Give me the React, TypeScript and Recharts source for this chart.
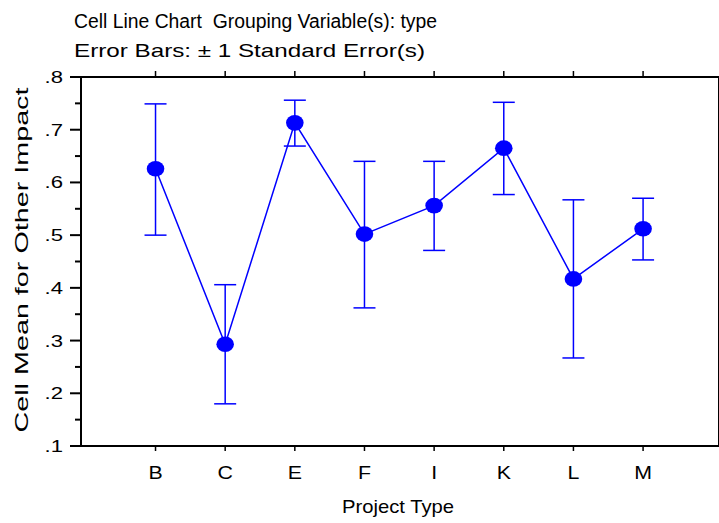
import React from "react";
import { LineChart, Line, XAxis, YAxis, ErrorBar } from "recharts";

const categories = ["B", "C", "E", "F", "I", "K", "L", "M"];
const means = [0.626, 0.293, 0.713, 0.502, 0.556, 0.665, 0.417, 0.512];
const lower = [0.5, 0.18, 0.669, 0.362, 0.471, 0.577, 0.267, 0.453];
const upper = [0.749, 0.406, 0.756, 0.64, 0.64, 0.752, 0.567, 0.57];
const yTicks = [0.1, 0.15, 0.2, 0.25, 0.3, 0.35, 0.4, 0.45, 0.5, 0.55, 0.6, 0.65, 0.7, 0.75, 0.8];
const xTicks = categories.map((_, i) => i);

const data = categories.map((cat, i) => ({
  pos: i,
  cat,
  mean: means[i],
  err: [means[i] - lower[i], upper[i] - means[i]],
}));

const FONT = "'Liberation Sans', Arial, sans-serif";
const BLUE = "#0000ff";
const X_DOMAIN = [-1.07, 8.09];

const isMajor = (v: number) => Math.abs(v * 10 - Math.round(v * 10)) < 1e-6;

const LeftTick = (props: any) => {
  const { x, y, payload } = props;
  const major = isMajor(payload.value);
  return (
    <g>
      <line x1={x - (major ? 11 : 6)} x2={x} y1={y} y2={y} stroke="#000" strokeWidth={2} />
      {major && (
        <text
          transform={`translate(${x - 18},${y + 6}) scale(1.3,1)`}
          textAnchor="end"
          fontSize={17}
          fontFamily={FONT}
          fill="#000"
        >
          {payload.value.toFixed(1).replace(/^0/, "")}
        </text>
      )}
    </g>
  );
};

const BottomTick = (props: any) => {
  const { x, y, payload } = props;
  return (
    <g>
      <line x1={x} x2={x} y1={y} y2={y + 5} stroke="#000" strokeWidth={1.5} />
      <text
        transform={`translate(${x},${y + 32.5}) scale(1.22,1)`}
        textAnchor="middle"
        fontSize={17.5}
        fontFamily={FONT}
        fill="#000"
      >
        {categories[payload.value]}
      </text>
    </g>
  );
};

const Dot = (props: any) => {
  const { cx, cy } = props;
  if (cx == null || cy == null) return null;
  return <ellipse cx={cx} cy={cy} rx={8.8} ry={7.8} fill={BLUE} />;
};

export default function App() {
  return (
    <div style={{ position: "absolute", left: 0, top: 0, width: 719, height: 523, background: "#fff" }}>
      <LineChart width={719} height={523} data={data} margin={{ top: 70, right: 0, bottom: 0, left: 0 }}>
        <XAxis
          xAxisId="bottom"
          dataKey="pos"
          type="number"
          domain={X_DOMAIN}
          ticks={xTicks}
          interval={0}
          allowDataOverflow
          orientation="bottom"
          height={77}
          axisLine={{ stroke: "#000", strokeWidth: 2 }}
          tickLine={false}
          tickSize={0}
          tickMargin={0}
          tick={<BottomTick />}
        />
        <XAxis
          xAxisId="top"
          dataKey="pos"
          type="number"
          domain={X_DOMAIN}
          ticks={xTicks}
          interval={0}
          allowDataOverflow
          orientation="top"
          height={7}
          axisLine={{ stroke: "#000", strokeWidth: 2 }}
          tickLine={{ stroke: "#000", strokeWidth: 1.5 }}
          tickSize={6}
          tickFormatter={() => ""}
        />
        <YAxis
          yAxisId="left"
          type="number"
          domain={[0.1, 0.8]}
          ticks={yTicks}
          interval={0}
          width={81}
          axisLine={{ stroke: "#000", strokeWidth: 2 }}
          tickLine={false}
          tickSize={0}
          tickMargin={0}
          tick={<LeftTick />}
        />
        <YAxis
          yAxisId="right"
          orientation="right"
          type="number"
          domain={[0.1, 0.8]}
          ticks={yTicks}
          interval={0}
          width={2}
          mirror
          axisLine={{ stroke: "#000", strokeWidth: 2 }}
          tickLine={{ stroke: "#000", strokeWidth: 1.5 }}
          tickSize={3}
          tickFormatter={() => ""}
        />
        <Line
          xAxisId="bottom"
          yAxisId="left"
          dataKey="mean"
          stroke={BLUE}
          strokeWidth={1.5}
          dot={<Dot />}
          activeDot={false}
          isAnimationActive={false}
        >
          <ErrorBar dataKey="err" direction="y" width={11} stroke={BLUE} strokeWidth={1.5} />
        </Line>
      </LineChart>
      <svg width={719} height={523} style={{ position: "absolute", left: 0, top: 0, pointerEvents: "none" }}>
        <g fontFamily={FONT} fill="#000">
          <text x={74} y={28} fontSize={19.5} textLength={363} lengthAdjust="spacingAndGlyphs" xmlSpace="preserve">
            {"Cell Line Chart  Grouping Variable(s): type"}
          </text>
          <text x={74} y={57} fontSize={19} textLength={351} lengthAdjust="spacingAndGlyphs">
            Error Bars: ± 1 Standard Error(s)
          </text>
          <text
            transform="translate(28,260) rotate(-90)"
            textAnchor="middle"
            fontSize={18}
            textLength={345}
            lengthAdjust="spacingAndGlyphs"
          >
            Cell Mean for Other Impact
          </text>
          <text x={398} y={513} textAnchor="middle" fontSize={19} textLength={112} lengthAdjust="spacingAndGlyphs">
            Project Type
          </text>
        </g>
      </svg>
    </div>
  );
}
